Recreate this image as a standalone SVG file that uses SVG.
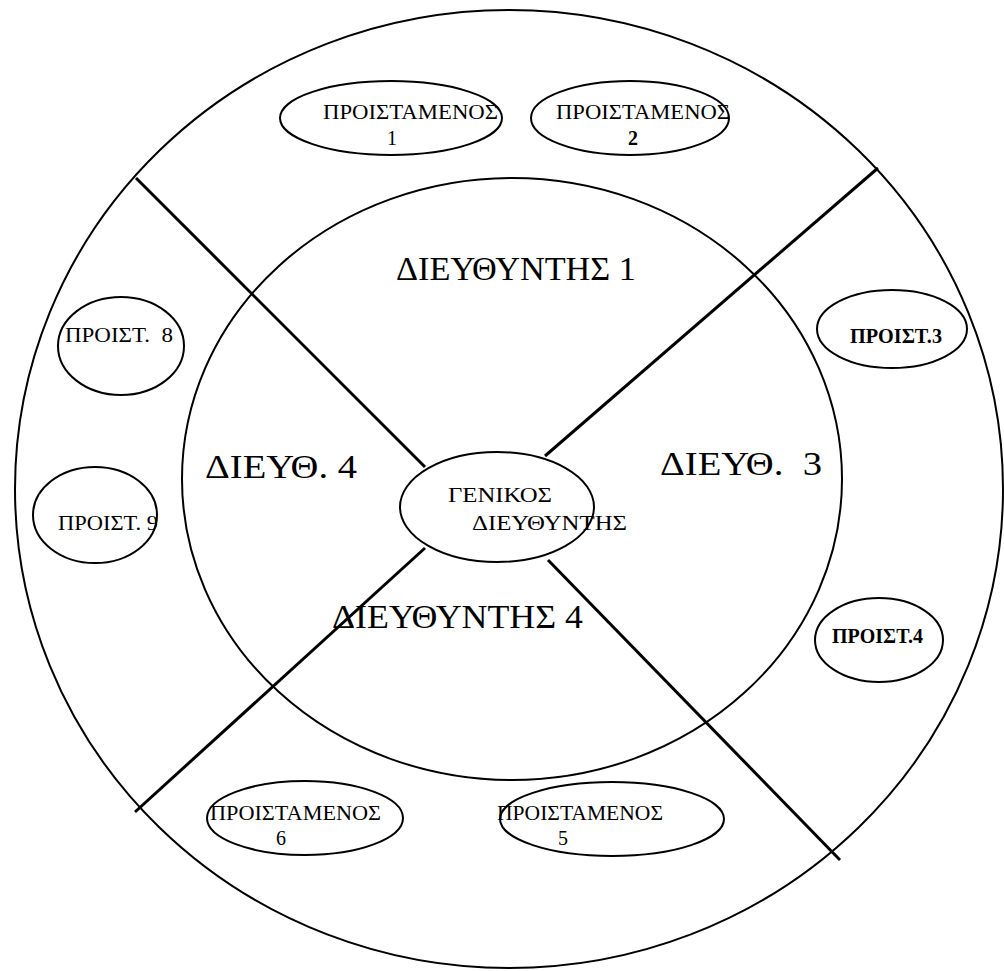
<svg xmlns="http://www.w3.org/2000/svg" width="1004" height="971" viewBox="0 0 1004 971">
<style>
.c{fill:none;stroke:#000;stroke-width:2}
.ln{stroke:#000;stroke-width:3;fill:none}
text{font-family:"Liberation Serif","DejaVu Serif",serif;fill:#000}
.big{font-size:34px}
.sm{font-size:20px}
.md{font-size:22px}
</style>
<rect width="1004" height="971" fill="#fff"/>
<g id="rings">
<ellipse class="c" cx="509" cy="489" rx="494" ry="479"/>
<ellipse class="c" cx="512" cy="479" rx="330" ry="301"/>
</g>
<g id="connectors">
<line class="ln" x1="136" y1="178" x2="425" y2="467"/>
<line class="ln" x1="878" y1="168" x2="545" y2="456"/>
<line class="ln" x1="135" y1="812" x2="425" y2="548"/>
<line class="ln" x1="548" y1="560" x2="840" y2="860"/>
</g>
<g id="sector-labels">
<text class="big" x="396" y="280" textLength="240" lengthAdjust="spacingAndGlyphs">ΔΙΕΥΘΥΝΤΗΣ 1</text>
<text class="big" x="205" y="478" textLength="152" lengthAdjust="spacingAndGlyphs">ΔΙΕΥΘ. 4</text>
<text class="big" x="660" y="475" textLength="162" lengthAdjust="spacingAndGlyphs" xml:space="preserve">ΔΙΕΥΘ.  3</text>
<text class="big" x="332" y="628" textLength="251" lengthAdjust="spacingAndGlyphs">ΔΙΕΥΘΥΝΤΗΣ 4</text>
</g>
<g id="general">
<ellipse class="c" cx="497" cy="507" rx="97" ry="55"/>
<text class="md" x="448" y="502" textLength="104" lengthAdjust="spacingAndGlyphs">ΓΕΝΙΚΟΣ</text>
<text class="md" x="472" y="530" textLength="155" lengthAdjust="spacingAndGlyphs">ΔΙΕΥΘΥΝΤΗΣ</text>
</g>
<g id="p1">
<ellipse class="c" cx="391" cy="118" rx="111" ry="37"/>
<text class="sm" x="323" y="119" textLength="175" lengthAdjust="spacingAndGlyphs">ΠΡΟΙΣΤΑΜΕΝΟΣ</text>
<text class="sm" x="387" y="145">1</text>
</g>
<g id="p2">
<ellipse class="c" cx="630" cy="118" rx="99" ry="37"/>
<text class="sm" x="556" y="119" textLength="174" lengthAdjust="spacingAndGlyphs">ΠΡΟΙΣΤΑΜΕΝΟΣ</text>
<text class="sm" x="628" y="145" font-weight="bold">2</text>
</g>
<g id="p3">
<ellipse class="c" cx="892" cy="329" rx="75" ry="39"/>
<text class="sm" x="850" y="343" font-weight="bold" textLength="92" lengthAdjust="spacingAndGlyphs">ΠΡΟΙΣΤ.3</text>
</g>
<g id="p4">
<ellipse class="c" cx="879" cy="640" rx="64" ry="42"/>
<text class="sm" x="832" y="643" font-weight="bold" textLength="91" lengthAdjust="spacingAndGlyphs">ΠΡΟΙΣΤ.4</text>
</g>
<g id="p8">
<ellipse class="c" cx="121" cy="346" rx="63" ry="49"/>
<text class="sm" x="65" y="342" textLength="108" lengthAdjust="spacingAndGlyphs" xml:space="preserve">ΠΡΟΙΣΤ.  8</text>
</g>
<g id="p9">
<ellipse class="c" cx="95" cy="515" rx="62" ry="48"/>
<text class="sm" x="58" y="530" textLength="100" lengthAdjust="spacingAndGlyphs">ΠΡΟΙΣΤ. 9</text>
</g>
<g id="p6">
<ellipse class="c" cx="305" cy="818" rx="98" ry="37"/>
<text class="sm" x="210" y="820" textLength="171" lengthAdjust="spacingAndGlyphs">ΠΡΟΙΣΤΑΜΕΝΟΣ</text>
<text class="sm" x="276" y="845">6</text>
</g>
<g id="p5">
<ellipse class="c" cx="612" cy="819" rx="112" ry="37"/>
<text class="sm" x="497" y="820" textLength="166" lengthAdjust="spacingAndGlyphs">ΠΡΟΙΣΤΑΜΕΝΟΣ</text>
<text class="sm" x="558" y="845">5</text>
</g>
</svg>
